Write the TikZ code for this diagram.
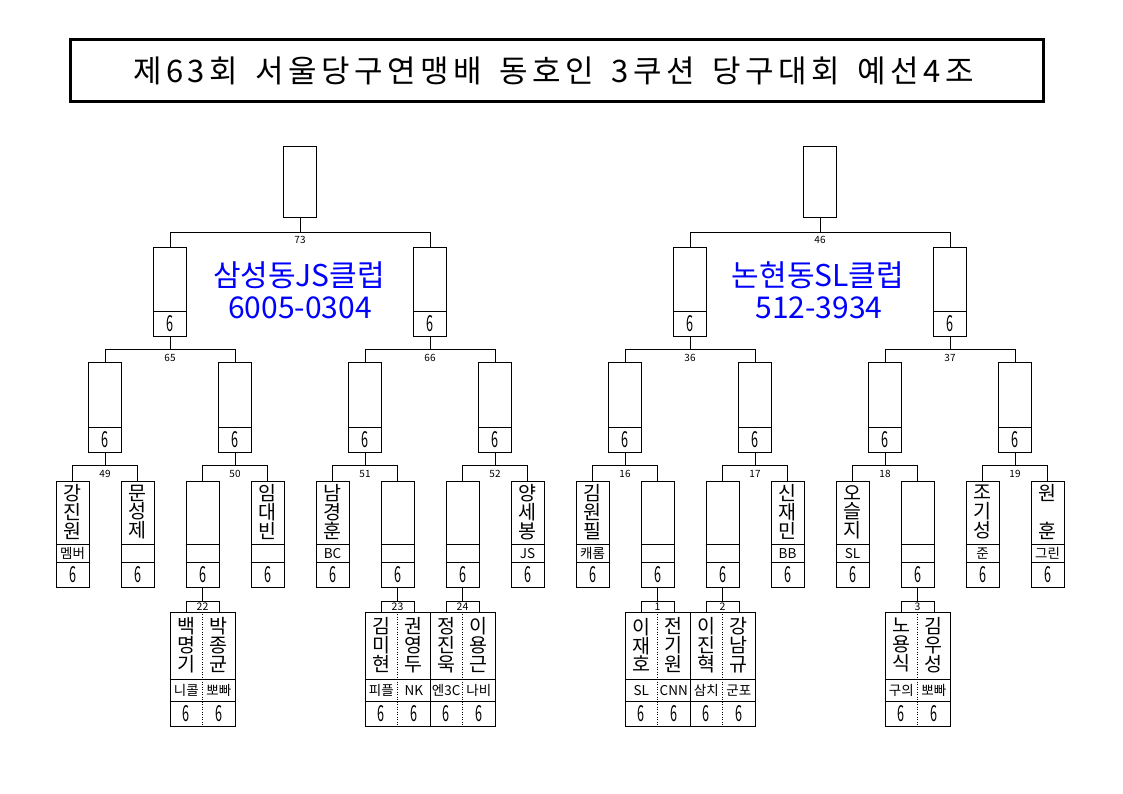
\documentclass[tikz,border=0pt]{standalone}
\usepackage{graphicx}
\usepackage{fontspec}
\setmainfont{Noto Sans CJK KR}
\newfontfamily\titlefont{Noto Sans CJK KR}[LetterSpace=14]
\begin{document}
\begin{tikzpicture}[x=1pt,y=-1pt,line width=1pt,
  box/.style={draw,line width=1pt,inner sep=0pt,minimum width=32.5pt},
  lbl/.style={font=\fontsize{10}{10}\selectfont,inner sep=0pt,anchor=north},
  six/.style={font=\fontsize{21}{21}\selectfont,inner sep=0pt},
  pname/.style={font=\fontsize{19.5}{18.7}\selectfont,align=center,inner sep=0pt},
  club/.style={font=\fontsize{13.5}{13.5}\selectfont,inner sep=0pt},
  clubtxt/.style={font=\fontsize{30}{30}\selectfont,text=blue,inner sep=0pt},
  dotline/.style={line width=0.8pt,dash pattern=on 1pt off 1.5pt}]
\newcommand\sixg{\scalebox{0.6}[1.05]{6}}
\useasboundingbox (0,0) rectangle (1123,794);
% title
\node[draw,line width=3pt,minimum width=973pt,minimum height=62pt,inner sep=0pt,
  font=\titlefont\fontsize{31}{31}\selectfont] (title) at (556.5,71)
  {\hspace*{-6pt}제63회\hspace{18pt}서울당구연맹배\hspace{18pt}동호인\hspace{18pt}3쿠션\hspace{18pt}당구대회\hspace{18pt}예선4조};
% level 0
\foreach \m/\x in {0/300,1/820}{
  \node[box,minimum width=33pt,minimum height=71pt] (L0-\m) at (\x,182.5) {};
}
% level 1
\foreach \k in {0,...,3}{
  \pgfmathsetmacro\x{170+260*\k}
  \node[box,minimum height=89pt] (L1-\k) at (\x,291.5) {};
  \draw ([yshift=25pt]L1-\k.south west) -- ([yshift=25pt]L1-\k.south east);
  \node[six] (L1s-\k) at ([yshift=12.5pt]L1-\k.south) {\sixg};
}
% level 2
\foreach \j in {0,...,7}{
  \pgfmathsetmacro\x{105+130*\j}
  \node[box,minimum height=90pt] (L2-\j) at (\x,407) {};
  \draw ([yshift=25pt]L2-\j.south west) -- ([yshift=25pt]L2-\j.south east);
  \node[six] (L2s-\j) at ([yshift=12.5pt]L2-\j.south) {\sixg};
}
% level 3
\foreach \i in {0,...,15}{
  \pgfmathsetmacro\x{72.5+65*\i}
  \node[box,minimum width=33pt,minimum height=106pt] (L3-\i) at (\x,534) {};
  \draw ([yshift=43pt]L3-\i.south west) -- ([yshift=43pt]L3-\i.south east);
  \draw ([yshift=25pt]L3-\i.south west) -- ([yshift=25pt]L3-\i.south east);
  \node[six] (L3s-\i) at ([yshift=12.5pt]L3-\i.south) {\sixg};
}
% connectors level 0 -> 1
\foreach \m/\n in {0/73,1/46}{
  \pgfmathtruncatemacro\a{2*\m}
  \pgfmathtruncatemacro\b{2*\m+1}
  \draw (L0-\m.south) -- ++(0,14) -| (L1-\a.north);
  \draw (L0-\m.south) -- ++(0,14) -| (L1-\b.north);
  \node[lbl] (M\n) at ([yshift=-17pt]L0-\m.south) {\n};
}
% connectors level 1 -> 2
\foreach \k/\n in {0/65,1/66,2/36,3/37}{
  \pgfmathtruncatemacro\a{2*\k}
  \pgfmathtruncatemacro\b{2*\k+1}
  \draw (L1-\k.south) -- ++(0,13) -| (L2-\a.north);
  \draw (L1-\k.south) -- ++(0,13) -| (L2-\b.north);
  \node[lbl] (M\n) at ([yshift=-17pt]L1-\k.south) {\n};
}
% connectors level 2 -> 3
\foreach \j/\n in {0/49,1/50,2/51,3/52,4/16,5/17,6/18,7/19}{
  \pgfmathtruncatemacro\a{2*\j}
  \pgfmathtruncatemacro\b{2*\j+1}
  \draw (L2-\j.south) -- ++(0,13) -| (L3-\a.north);
  \draw (L2-\j.south) -- ++(0,13) -| (L3-\b.north);
  \node[lbl] (M\n) at ([yshift=-17pt]L2-\j.south) {\n};
}
% names level 3
\foreach \i/\nm in {0/{강\\진\\원},1/{문\\성\\제},3/{임\\대\\빈},4/{남\\경\\훈},7/{양\\세\\봉},
  8/{김\\원\\필},11/{신\\재\\민},12/{오\\슬\\지},14/{조\\기\\성},15/{원\\\mbox{}\\훈}}{
  \node[pname] (P\i) at ([yshift=-31.5pt]L3-\i.north) {\nm};
}
\foreach \i/\cl in {0/멤버,4/BC,7/JS,8/캐롬,11/BB,12/SL,14/준,15/그린}{
  \node[club] (C\i) at ([yshift=34pt]L3-\i.south) {\cl};
}
% level 4
\foreach \i/\n/\a/\ac/\b/\bc in {
  2/22/{백\\명\\기}/{니콜}/{박\\종\\균}/{뽀빠},
  5/23/{김\\미\\현}/{피플}/{권\\영\\두}/{NK},
  6/24/{정\\진\\욱}/{엔3C}/{이\\용\\근}/{나비},
  9/1/{이\\재\\호}/{SL}/{전\\기\\원}/{CNN},
  10/2/{이\\진\\혁}/{삼치}/{강\\남\\규}/{군포},
  13/3/{노\\용\\식}/{구의}/{김\\우\\성}/{뽀빠}}{
  \pgfmathsetmacro\x{72.5+65*\i}
  \node[box,minimum width=33pt,minimum height=11pt,font=\fontsize{10.5}{10.5}\selectfont] (N\n) at (\x,606.5) {\n};
  \draw (L3-\i.south) -- (N\n.north);
  \node[box,minimum width=65pt,minimum height=114pt] (B\n) at (\x,669) {};
  \draw ([yshift=47pt]B\n.south west) -- ([yshift=47pt]B\n.south east);
  \draw ([yshift=25pt]B\n.south west) -- ([yshift=25pt]B\n.south east);
  \draw[dotline] (B\n.north) -- (B\n.south);
  \node[pname] (B\n-pa) at ([xshift=-16.25pt,yshift=-33.5pt]B\n.north) {\a};
  \node[pname] (B\n-pb) at ([xshift=16.25pt,yshift=-33.5pt]B\n.north) {\b};
  \node[club] (B\n-ca) at ([xshift=-16.25pt,yshift=36pt]B\n.south) {\ac};
  \node[club] (B\n-cb) at ([xshift=16.25pt,yshift=36pt]B\n.south) {\bc};
  \node[six] (B\n-sa) at ([xshift=-16.25pt,yshift=12.5pt]B\n.south) {\sixg};
  \node[six] (B\n-sb) at ([xshift=16.25pt,yshift=12.5pt]B\n.south) {\sixg};
}
% club captions
\node[clubtxt] (club1a) at (299,275) {삼성동JS클럽};
\node[clubtxt] (club1b) at (300,307.5) {6005-0304};
\node[clubtxt] (club2a) at (818,275) {논현동SL클럽};
\node[clubtxt] (club2b) at (819,307.5) {512-3934};
\end{tikzpicture}
\end{document}
